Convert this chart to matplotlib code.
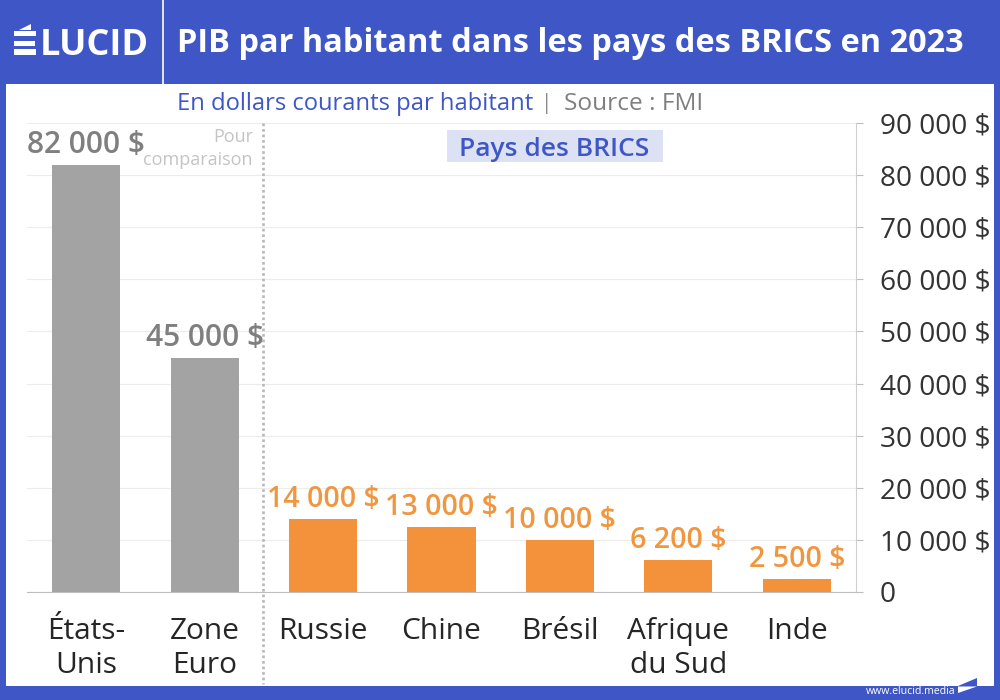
import matplotlib
matplotlib.use("Agg")
import matplotlib.pyplot as plt
from matplotlib.patches import Rectangle, Polygon

plt.rcParams["font.family"] = ["Open Sans", "DejaVu Sans"]

countries = ["États-\nUnis", "Zone\nEuro", "Russie", "Chine", "Brésil", "Afrique\ndu Sud", "Inde"]
values = [82000, 45000, 14000, 12500, 10000, 6200, 2500]
value_labels = ["82 000 $", "45 000 $", "14 000 $", "13 000 $", "10 000 $", "6 200 $", "2 500 $"]
y_ticks = [0, 10000, 20000, 30000, 40000, 50000, 60000, 70000, 80000, 90000]
y_tick_labels = ["0", "10 000 $", "20 000 $", "30 000 $", "40 000 $", "50 000 $",
                 "60 000 $", "70 000 $", "80 000 $", "90 000 $"]

BLUE = "#3f57c6"
GREY = "#a3a3a3"
GREY_TEXT = "#7f7f7f"
ORANGE = "#f3923b"
ORANGE_TEXT = "#f0963f"
W, H = 1000, 700


def px(x, y):
    # pixel position (top left origin) to figure fraction
    return x / W, 1 - y / H


def px_rect(x0, y0, x1, y1, color, z=5):
    fig.add_artist(Rectangle(px(x0, y1), (x1 - x0) / W, (y1 - y0) / H, transform=fig.transFigure,
                             facecolor=color, edgecolor="none", zorder=z))


def px_poly(points, color):
    fig.add_artist(Polygon([px(x, y) for x, y in points], transform=fig.transFigure,
                           facecolor=color, edgecolor="none", zorder=5))


fig = plt.figure(figsize=(10, 7), dpi=100, facecolor=BLUE)

# white panel
px_rect(6, 84, 994, 686, "white", z=-1)

ax = fig.add_axes([27 / W, 1 - 592 / H, 829 / W, 469 / H])
ax.set_facecolor("none")

# bars
colors = [GREY, GREY] + [ORANGE] * 5
x_pos = list(range(len(countries)))
ax.bar(x_pos, values, width=0.575, color=colors, zorder=3)
ax.set_xlim(-0.5, 6.5)
ax.set_ylim(0, 90000)

for x, v, lab in zip(x_pos, values, value_labels):
    ax.annotate(lab, (x, v), xytext=(0, 5), textcoords="offset pixels", ha="center", va="bottom",
                fontsize=21.5 if x < 2 else 20.6, fontweight="semibold", zorder=5,
                color=GREY_TEXT if x < 2 else ORANGE_TEXT)

# grid and axis
ax.yaxis.tick_right()
ax.set_yticks(y_ticks)
ax.set_yticklabels(y_tick_labels, fontsize=20.2, color="#333333")
ax.tick_params(axis="y", length=5, width=0.8, color="#bdbdbd", pad=12)
ax.grid(axis="y", color="#ececec", lw=0.8, zorder=0)
ax.set_xticks(x_pos)
ax.set_xticklabels(countries, fontsize=21.5, fontweight="medium", color="#262626", linespacing=1.22)
ax.tick_params(axis="x", length=0, pad=18)
for side in ["top", "left"]:
    ax.spines[side].set_visible(False)
ax.spines["right"].set_color("#cfcfcf")
ax.spines["bottom"].set_color("#bdbdbd")

# separator between comparison and BRICS
fig.add_artist(plt.Line2D([263 / W, 263 / W], [1 - 123 / H, 1 - 684 / H], color="#b8b8b8",
                          lw=1.9, ls=(0, (1, 1.1))))

fig.text(*px(253, 137), "Pour", ha="right", va="center", fontsize=13, color="#c4c4c4")
fig.text(*px(253, 160), "comparaison", ha="right", va="center", fontsize=13, color="#c4c4c4")

px_rect(447, 130, 663, 162, "#dde1f4", z=0.5)
fig.text(*px(554, 149), "Pays des BRICS", ha="center", va="center", fontsize=19,
         fontweight="semibold", color=BLUE)

# header
fig.text(*px(177, 44), "PIB par habitant dans les pays des BRICS en 2023", ha="left", va="center",
         fontsize=23.4, fontweight="bold", color="white")
fig.text(*px(40, 46), "LUCID", ha="left", va="center", fontsize=26, fontweight="bold", color="white")
px_rect(14, 31, 36, 36, "white")
px_rect(14, 41, 35, 46, "white")
px_rect(14, 49, 36, 55, "white")
px_poly([(19, 30), (31, 24), (31, 30)], "white")
fig.add_artist(plt.Line2D([162.5 / W, 162.5 / W], [1 - 84 / H, 1], color="white", lw=1.2))

fig.text(*px(177, 104), "En dollars courants par habitant", ha="left", va="center",
         fontsize=17.1, color=BLUE)
fig.text(*px(547, 104), "|", ha="center", va="center", fontsize=15, color="#8a8a8a")
fig.text(*px(564, 104), "Source : FMI", ha="left", va="center", fontsize=17.6, color="#7f7f7f")

# footer
fig.text(*px(955, 691), "www.elucid.media", ha="right", va="center", fontsize=7.6, color="white")
px_poly([(958, 686), (977, 678), (977, 686)], BLUE)
px_poly([(958, 686.5), (977, 686.5), (958, 693)], "white")

fig.savefig("out.png", dpi=100, facecolor=BLUE)
